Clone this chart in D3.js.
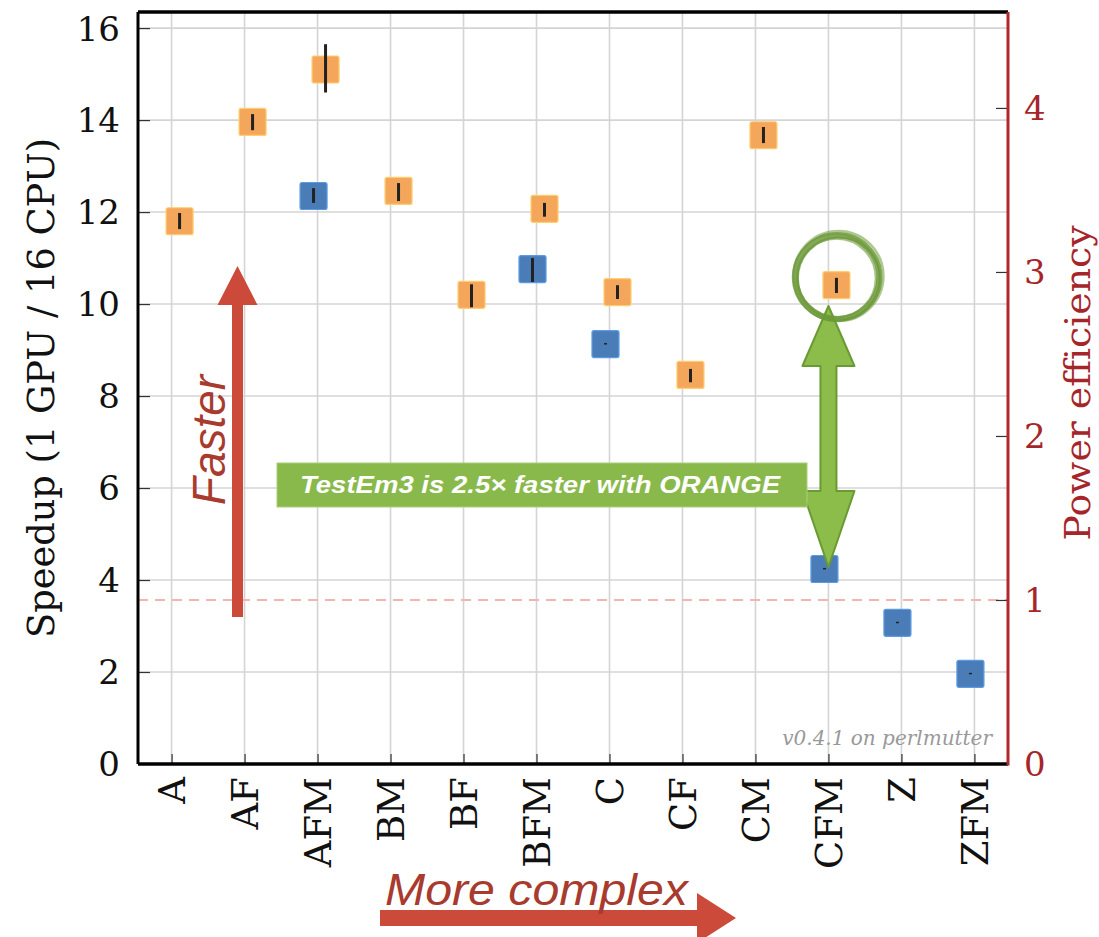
<!DOCTYPE html>
<html>
<head>
<meta charset="utf-8">
<script src="https://cdn.jsdelivr.net/npm/d3@7"></script>
<style>
  body { margin: 0; background: #fff; }
  svg { display: block; }
</style>
</head>
<body>
<div class="chart"></div>
<script>
const categories = ['A', 'AF', 'AFM', 'BM', 'BF', 'BFM', 'C', 'CF', 'CM', 'CFM', 'Z', 'ZFM'];

// ORANGE speedup (mean, low, high)
const orangeCats = ['A', 'AF', 'AFM', 'BM', 'BF', 'BFM', 'C', 'CF', 'CM', 'CFM'];
const orangeMean = [11.8, 13.96, 15.1, 12.46, 10.2, 12.07, 10.26, 8.46, 13.67, 10.41];
const orangeLow = [11.63, 13.78, 14.6, 12.24, 9.93, 11.9, 10.11, 8.3, 13.5, 10.24];
const orangeHigh = [11.98, 14.13, 15.65, 12.63, 10.43, 12.2, 10.41, 8.59, 13.85, 10.57];

// other code speedup
const blueCats = ['AFM', 'BFM', 'C', 'CFM', 'Z', 'ZFM'];
const blueMean = [12.35, 10.76, 9.13, 4.24, 3.07, 1.96];
const blueLow = [12.2, 10.48, 9.12, 4.23, 3.06, 1.95];
const blueHigh = [12.52, 11.0, 9.14, 4.25, 3.08, 1.97];

const speedupTicks = [0, 2, 4, 6, 8, 10, 12, 14, 16];
const powerTicks = [0, 1, 2, 3, 4];
const powerRatio = 3.566; // speedup per unit of power efficiency

const width = 1099;
const height = 937;
const margin = { left: 138, right: 91, top: 12, bottom: 173 };
const x0 = margin.left;
const x1 = width - margin.right;
const y0 = height - margin.bottom;
const y1 = margin.top;

const serif = "'DejaVu Serif', serif";
const sans = "'Liberation Sans', Arial, sans-serif";
const darkRed = '#a5262a';

const svg = d3.select('.chart')
    .append('svg')
    .attr('width', width)
    .attr('height', height);

const x = d3.scalePoint()
    .domain(categories)
    .range([x0, x1])
    .padding(0.46);

const y = d3.scaleLinear()
    .domain([0, 16.35])
    .range([y0, y1]);

const yPower = d3.scaleLinear()
    .domain([0, 16.35 / powerRatio])
    .range([y0, y1]);

// grid
const grid = svg.append('g').attr('class', 'grid');
grid.selectAll('line.v')
    .data(categories)
    .enter()
    .append('line')
    .attr('x1', d => x(d))
    .attr('x2', d => x(d))
    .attr('y1', y1)
    .attr('y2', y0)
    .attr('stroke', '#d4d4d4')
    .attr('stroke-width', 1.6);

grid.selectAll('line.h')
    .data(speedupTicks.slice(1))
    .enter()
    .append('line')
    .attr('x1', x0)
    .attr('x2', x1)
    .attr('y1', d => y(d))
    .attr('y2', d => y(d))
    .attr('stroke', '#d4d4d4')
    .attr('stroke-width', 1.6);

// power efficiency = 1 reference
svg.append('line')
    .attr('x1', x0)
    .attr('x2', x1)
    .attr('y1', yPower(1))
    .attr('y2', yPower(1))
    .attr('stroke', '#f2b6b2')
    .attr('stroke-width', 2)
    .attr('stroke-dasharray', '10,7');

// axes
const leftAxis = svg.append('g')
    .attr('transform', `translate(${x0},0)`)
    .call(d3.axisLeft(y).tickValues(speedupTicks).tickSizeInner(-12).tickSizeOuter(0).tickPadding(18));

const rightAxis = svg.append('g')
    .attr('transform', `translate(${x1},0)`)
    .call(d3.axisRight(yPower).tickValues(powerTicks).tickFormat(d3.format('d'))
        .tickSizeInner(-12).tickSizeOuter(0).tickPadding(16));

const bottomAxis = svg.append('g')
    .attr('transform', `translate(0,${y0})`)
    .call(d3.axisBottom(x).tickSizeInner(-10).tickSizeOuter(0).tickPadding(14));

[leftAxis, rightAxis, bottomAxis].forEach(g => {
    g.select('.domain').remove();
    g.selectAll('.tick line').attr('stroke', '#333').attr('stroke-width', 1.2);
});

leftAxis.selectAll('.tick line').filter(d => d === 0).remove();
rightAxis.selectAll('.tick line').filter(d => d === 0).remove();

leftAxis.selectAll('text')
    .style('font-family', serif)
    .style('font-size', '34px')
    .attr('fill', '#111')
    .attr('dy', '0.35em');

rightAxis.selectAll('text')
    .style('font-family', serif)
    .style('font-size', '34px')
    .attr('fill', darkRed)
    .attr('dy', '0.35em');

bottomAxis.selectAll('text')
    .style('font-family', serif)
    .style('font-size', '37px')
    .attr('fill', '#111')
    .attr('text-anchor', 'end')
    .attr('transform', 'rotate(-90)')
    .attr('x', -13)
    .attr('y', 0)
    .attr('dy', '0.36em');

// spines
svg.append('line').attr('x1', x0).attr('x2', x1).attr('y1', y1).attr('y2', y1)
    .attr('stroke', '#000').attr('stroke-width', 3.5);
svg.append('line').attr('x1', x0).attr('x2', x1).attr('y1', y0).attr('y2', y0)
    .attr('stroke', '#000').attr('stroke-width', 3.5);
svg.append('line').attr('x1', x0).attr('x2', x0).attr('y1', y1).attr('y2', y0)
    .attr('stroke', '#000').attr('stroke-width', 3);
svg.append('line').attr('x1', x1).attr('x2', x1).attr('y1', y1).attr('y2', y0 + 1.5)
    .attr('stroke', '#b3262b').attr('stroke-width', 3);

// axis titles
svg.append('text')
    .attr('transform', 'translate(54,388) rotate(-90)')
    .attr('text-anchor', 'middle')
    .attr('textLength', 500)
    .attr('lengthAdjust', 'spacingAndGlyphs')
    .style('font-family', serif)
    .style('font-size', '38px')
    .attr('fill', '#111')
    .text('Speedup (1 GPU / 16 CPU)');

svg.append('text')
    .attr('transform', 'translate(1090,383) rotate(-90)')
    .attr('text-anchor', 'middle')
    .attr('textLength', 315)
    .attr('lengthAdjust', 'spacingAndGlyphs')
    .style('font-family', serif)
    .style('font-size', '36px')
    .attr('fill', darkRed)
    .text('Power efficiency');

// data marks
const markSize = 27;

function drawSeries(cats, mean, low, high, offset, color) {
    const rows = cats.map((c, i) => ({ c, m: mean[i], lo: low[i], hi: high[i] }));
    const g = svg.append('g');
    g.selectAll('rect')
        .data(rows)
        .enter()
        .append('rect')
        .attr('x', d => x(d.c) + offset - markSize / 2)
        .attr('y', d => y(d.m) - markSize / 2)
        .attr('width', markSize)
        .attr('height', markSize)
        .attr('rx', 2)
        .attr('fill', color)
        .attr('stroke', d3.color(color).brighter(0.6))
        .attr('stroke-width', 1.2);
    g.selectAll('line')
        .data(rows)
        .enter()
        .append('line')
        .attr('x1', d => x(d.c) + offset)
        .attr('x2', d => x(d.c) + offset)
        .attr('y1', d => y(d.lo))
        .attr('y2', d => Math.min(y(d.hi), y(d.lo) - 1.5))
        .attr('stroke', '#222')
        .attr('stroke-width', 3);
}

drawSeries(blueCats, blueMean, blueLow, blueHigh, -4, '#4a7db8');
drawSeries(orangeCats, orangeMean, orangeLow, orangeHigh, 8, '#f4a65a');

// version tag
svg.append('text')
    .attr('x', 992)
    .attr('y', 745)
    .attr('text-anchor', 'end')
    .style('font-family', serif)
    .style('font-style', 'italic')
    .style('font-size', '20px')
    .attr('fill', '#999')
    .text('v0.4.1 on perlmutter');

// "Faster" arrow
const red = '#cc4a3a';
const fx = 237.5;
svg.append('path')
    .attr('d', `M${fx - 5.5},617 L${fx - 5.5},305 L${fx - 20},305 L${fx},266 L${fx + 20},305 L${fx + 5.5},305 L${fx + 5.5},617 Z`)
    .attr('fill', red);

svg.append('text')
    .attr('transform', 'translate(225,440) rotate(-90)')
    .attr('text-anchor', 'middle')
    .style('font-family', sans)
    .style('font-style', 'italic')
    .style('font-size', '46px')
    .attr('fill', '#a83a2e')
    .text('Faster');

// "More complex" arrow
svg.append('path')
    .attr('d', 'M380,910 L697,910 L697,893 L736,918 L697,943 L697,926 L380,926 Z')
    .attr('fill', red);

svg.append('text')
    .attr('x', 385)
    .attr('y', 905)
    .attr('textLength', 303)
    .attr('lengthAdjust', 'spacingAndGlyphs')
    .style('font-family', sans)
    .style('font-style', 'italic')
    .style('font-size', '44px')
    .attr('fill', '#a83a2e')
    .text('More complex');

// green double arrow
const green = '#8cbd4b';
const greenDark = '#6a9a34';
const gx = x('CFM');
svg.append('path')
    .attr('d', `M${gx},306 L${gx + 26},366 L${gx + 8},366 L${gx + 8},491 L${gx + 26},491 L${gx},567 L${gx - 26},491 L${gx - 8},491 L${gx - 8},366 L${gx - 26},366 Z`)
    .attr('fill', green)
    .attr('stroke', greenDark)
    .attr('stroke-width', 2)
    .attr('stroke-linejoin', 'round');

// banner
svg.append('rect')
    .attr('x', 277)
    .attr('y', 463)
    .attr('width', 530)
    .attr('height', 44)
    .attr('fill', '#89b94b')
    .attr('stroke', '#a9cf78')
    .attr('stroke-width', 1);

svg.append('text')
    .attr('x', 540)
    .attr('y', 493)
    .attr('text-anchor', 'middle')
    .attr('textLength', 480)
    .attr('lengthAdjust', 'spacingAndGlyphs')
    .style('font-family', sans)
    .style('font-style', 'italic')
    .style('font-weight', 'bold')
    .style('font-size', '24px')
    .attr('fill', '#fff')
    .text('TestEm3 is 2.5× faster with ORANGE');

// hand-drawn circle around the ORANGE CFM point
const cx = gx + 9;
const cy = 277;
const brush = [
    { r: 42, w: 6, o: 0.85, dx: 0, dy: 0 },
    { r: 39.5, w: 2.5, o: 0.6, dx: -1, dy: 1 },
    { r: 45, w: 2.5, o: 0.55, dx: 1, dy: -1 },
    { r: 41, w: 2, o: 0.7, dx: 1.5, dy: 1.5 },
    { r: 43.5, w: 1.5, o: 0.6, dx: -1.5, dy: 0.5 }
];
svg.append('g')
    .selectAll('circle')
    .data(brush)
    .enter()
    .append('circle')
    .attr('cx', d => cx + d.dx)
    .attr('cy', d => cy + d.dy)
    .attr('r', d => d.r)
    .attr('fill', 'none')
    .attr('stroke', '#6d9a3a')
    .attr('stroke-width', d => d.w)
    .attr('stroke-opacity', d => d.o);
</script>
</body>
</html>
